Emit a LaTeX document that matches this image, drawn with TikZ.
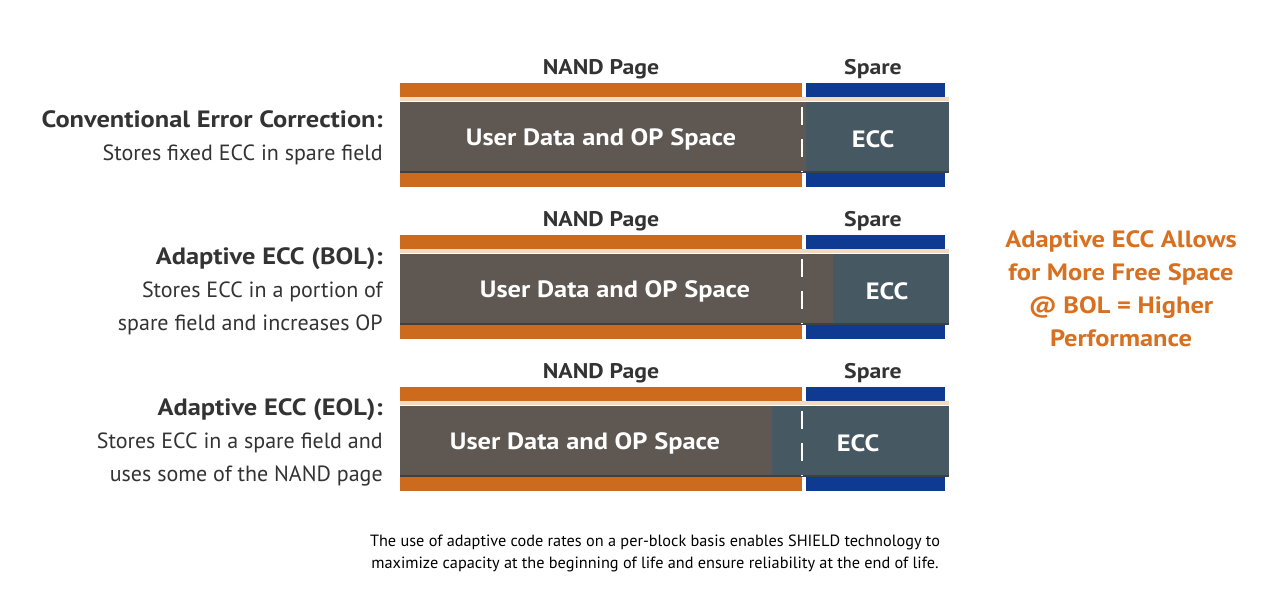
\documentclass[tikz,border=0pt]{standalone}
\usepackage{fontspec}
\setmainfont{PT Sans}[BoldFeatures={FakeStretch=1.12}]
\definecolor{nandor}{HTML}{CC6A1E}
\definecolor{sparebl}{HTML}{0E3A91}
\definecolor{userg}{HTML}{5E5752}
\definecolor{eccg}{HTML}{465862}
\definecolor{peach}{HTML}{F2D9C4}
\definecolor{txt}{HTML}{333333}
\definecolor{accent}{HTML}{D8701F}
\newcommand{\lblhead}[1]{{\fontsize{17.7}{24.75}\selectfont\bfseries #1}}
\tikzset{
  hdr/.style={font=\fontsize{15.9}{18}\selectfont\bfseries, text=txt, inner sep=0pt},
  boxtxt/.style={font=\fontsize{17.7}{20}\selectfont\bfseries, text=white, inner sep=0pt},
  lbl/.style={font=\fontsize{16.5}{24.75}\selectfont, text=txt, align=right, anchor=east, inner sep=0pt},
  note/.style={font=\fontsize{17.7}{24.75}\selectfont\bfseries, text=accent, align=center, inner sep=0pt},
  captxt/.style={font=\fontsize{12.2}{16.5}\selectfont, text=black, align=center, inner sep=0pt}
}
\begin{document}
\begin{tikzpicture}[x=0.75pt,y=-0.75pt]
\useasboundingbox[fill=white] (0,0) rectangle (1280,591);
\foreach \r/\t/\e in {1/83/806, 2/235/833, 3/387/772}{
  \fill[nandor] (400,\t) rectangle (802,\t+14);
  \fill[sparebl] (806,\t) rectangle (945,\t+14);
  \fill[peach] (400,\t+14) rectangle (949,\t+18);
  \fill[nandor] (400,\t+88) rectangle (802,\t+104);
  \fill[sparebl] (806,\t+88) rectangle (945,\t+104);
  \fill[black!75] (400,\t+19) rectangle (949,\t+90);
  \fill[eccg] (\e,\t+19) rectangle (949,\t+88);
  \fill[userg] (400,\t+19) rectangle (\e,\t+88);
  \draw[white, line width=2.2pt, dash pattern=on 14pt off 10pt, dash phase=-2pt] (802,\t+21) -- (802,\t+88);
  \node[hdr] (np\r) at (601,\t-14) {NAND Page};
  \node[hdr] (sp\r) at (873,\t-14) {Spare};
}
\node[boxtxt] (u1) at (601,139) {User Data and OP Space};
\node[boxtxt] (e1) at (873,139) {ECC};
\node[boxtxt] (u2) at (615,291) {User Data and OP Space};
\node[boxtxt] (e2) at (887,291) {ECC};
\node[boxtxt] (u3) at (585,443) {User Data and OP Space};
\node[boxtxt] (e3) at (858,443) {ECC};

\node[lbl] (l1) at (383,138) {\lblhead{Conventional Error Correction:}\\Stores fixed ECC in spare field};
\node[lbl] (l2) at (383,291) {\lblhead{Adaptive ECC (BOL):}\\Stores ECC in a portion of\\spare field and increases OP};
\node[lbl] (l3) at (383,442.5) {\lblhead{Adaptive ECC (EOL):}\\Stores ECC in a spare field and\\uses some of the NAND page};

\node[note] (n) at (1121,289) {Adaptive ECC Allows\\for More Free Space\\@ BOL = Higher\\Performance};

\node[captxt] (c) at (655,553) {The use of adaptive code rates on a per-block basis enables SHIELD technology to\\maximize capacity at the beginning of life and ensure reliability at the end of life.};
\end{tikzpicture}
\end{document}
